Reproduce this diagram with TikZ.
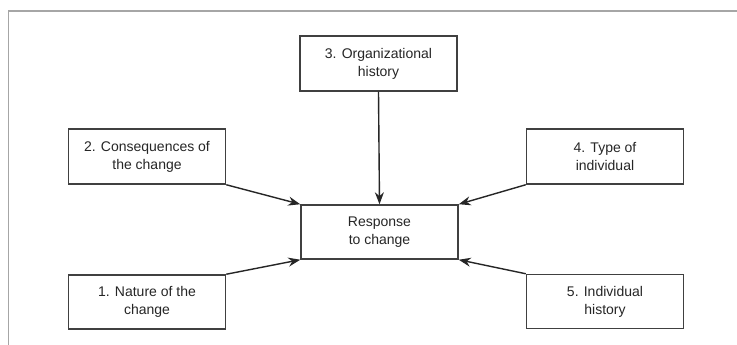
\documentclass[tikz,border=0pt]{standalone}
\usepackage{fontspec}
\setmainfont{Liberation Sans}
\usetikzlibrary{arrows.meta}
\begin{document}
\begin{tikzpicture}[x=1pt,y=1pt,
  box/.style={draw=black!75,line width=1.5pt,fill=white,align=center,
    minimum width=157pt,minimum height=55pt,inner sep=0pt,
    font=\fontsize{14}{18}\selectfont,text=black!85},
  arr/.style={draw=black!85,line width=1.4pt,-{Stealth[length=12pt,width=9pt]}}]
\useasboundingbox (0,0) rectangle (737,345);
\fill[white] (0,0) rectangle (737,345);
\draw[black!35,line width=1.8pt] (8.5,0) -- (8.5,334) -- (737,334);
\node[box] (org) at (378.5,281.5) {3. Organizational\\history};
\node[box] (cons) at (147,188.5) {2. Consequences of\\the change};
\node[box] (type) at (605,188.5) {4. Type of\\individual};
\node[box,minimum height=54pt] (resp) at (379.5,113) {Response\\to change};
\node[box,minimum height=54pt] (nat) at (147,43) {1. Nature of the\\change};
\node[box,minimum height=54pt] (ind) at (605,43.5) {5. Individual\\history};
\draw[arr] (org.south) -- (resp.north);
\draw[arr] (cons.south east) -- (resp.north west);
\draw[arr] (type.south west) -- (resp.north east);
\draw[arr] (nat.north east) -- (resp.south west);
\draw[arr] (ind.north west) -- (resp.south east);
\end{tikzpicture}
\end{document}
